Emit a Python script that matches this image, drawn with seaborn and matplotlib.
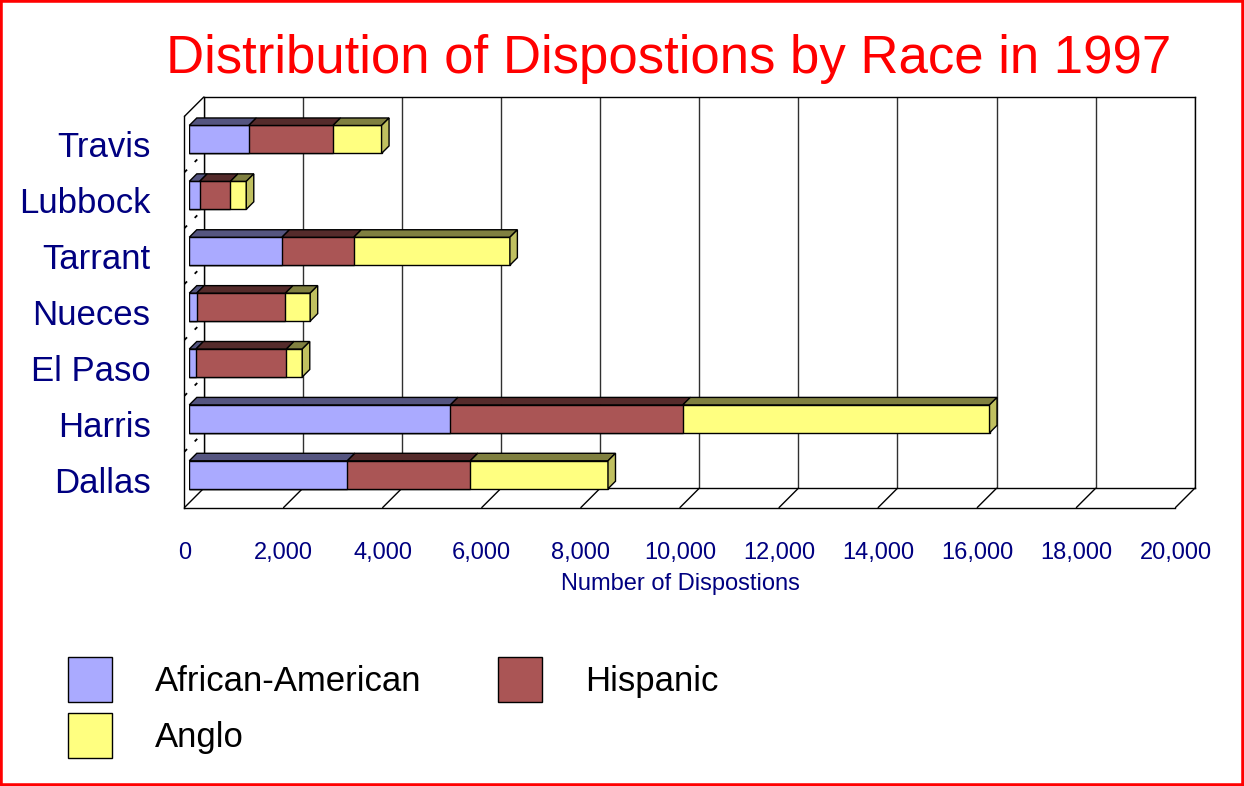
import matplotlib
matplotlib.use("Agg")
import matplotlib.pyplot as plt
from matplotlib.patches import Polygon, Patch, Rectangle
from matplotlib.lines import Line2D
from matplotlib.transforms import IdentityTransform
from matplotlib.ticker import FuncFormatter
import numpy as np
import seaborn as sns

# Dispositions by county and race, 1997
counties = ["Travis", "Lubbock", "Tarrant", "Nueces", "El Paso", "Harris", "Dallas"]
african_american = [1200, 210, 1870, 150, 135, 5270, 3190]
hispanic = [1700, 620, 1450, 1790, 1825, 4690, 2480]
anglo = [980, 320, 3150, 500, 320, 6190, 2780]
x_ticks = list(range(0, 20001, 2000))

series_names = ["African-American", "Hispanic", "Anglo"]
front_colors = ["#AAAAFF", "#AA5555", "#FFFF80"]
top_colors = ["#555580", "#552B2B", "#808040"]
side_colors = ["#7F7FBF", "#804040", "#C0C060"]
navy = "#000080"

sns.set_style("white")
plt.rcParams["font.family"] = ["Liberation Sans", "DejaVu Sans"]

W, H, DPI = 1244, 786, 100
fig = plt.figure(figsize=(W / DPI, H / DPI), dpi=DPI, facecolor="white")

# plane of the bar fronts (pixels), and the 3-D depth of the chart box
left, top, pw, ph = 189.3, 111.5, 991.0, 391.2
depth = 19.3
front_shift = -0.25 * depth
back_shift = 0.75 * depth
bar_depth = 7.5


def add_plane(shift, zorder):
    return fig.add_axes([(left + shift) / W, (H - top - ph + shift) / H, pw / W, ph / H],
                        zorder=zorder)


ax_back = add_plane(back_shift, 0)
ax_front = add_plane(front_shift, 1)
ax = add_plane(0, 2)

xlim = (x_ticks[0], x_ticks[-1])
ylim = (len(counties) - 0.5, -0.5)

# stacked bars: cumulative totals drawn largest first
values = np.array([african_american, hispanic, anglo], dtype=float)
cum = np.cumsum(values, axis=0)
for j in reversed(range(3)):
    sns.barplot(x=cum[j], y=counties, order=counties, color=front_colors[j],
                saturation=1, width=0.5, edgecolor="black", linewidth=1,
                orient="h", errorbar=None, ax=ax)
ax.set_xlim(xlim)
ax.set_ylim(ylim)
ax.axis("off")

# back wall with vertical gridlines
ax_back.set_xlim(xlim)
ax_back.set_ylim(ylim)
ax_back.set_facecolor("white")
ax_back.set_xticks(x_ticks)
ax_back.set_yticks([])
ax_back.tick_params(length=0, labelbottom=False, labelleft=False)
ax_back.grid(axis="x", color="#303030", linewidth=1)
for s in ax_back.spines.values():
    s.set_color("black")
    s.set_linewidth(1)

# front plane carrying the axes, ticks and labels
ax_front.set_xlim(xlim)
ax_front.set_ylim(ylim)
ax_front.patch.set_visible(False)
ax_front.spines["top"].set_visible(False)
ax_front.spines["right"].set_visible(False)
for s in ("left", "bottom"):
    ax_front.spines[s].set_color("black")
    ax_front.spines[s].set_linewidth(1)
ax_front.set_xticks(x_ticks)
ax_front.xaxis.set_major_formatter(FuncFormatter(lambda v, p: f"{int(v):,}"))
ax_front.set_yticks(range(len(counties)))
ax_front.set_yticklabels(counties)
ax_front.tick_params(axis="x", direction="out", length=12.2, width=1, color="black",
                     pad=12.3, labelsize=17, labelcolor=navy)
ax_front.tick_params(axis="y", direction="out", length=10, width=1, color="black",
                     pad=14.4, labelsize=25, labelcolor=navy)
ax_front.set_xlabel("Number of Dispostions", fontsize=17, color=navy, labelpad=7)

ident = IdentityTransform()


def plane_link(x, y, style="-"):
    p0 = ax_front.transData.transform((x, y))
    p1 = ax_back.transData.transform((x, y))
    kw = dict(color="black", linewidth=1, transform=ident, zorder=0.5)
    if style == "dotted":
        kw["dashes"] = (2, 6)
        kw["linewidth"] = 1.3
    fig.add_artist(Line2D([p0[0], p1[0]], [p0[1], p1[1]], **kw))


# floor edges and left wall
for xt in x_ticks:
    plane_link(xt, ylim[0])
plane_link(0, ylim[1])
for i in range(len(counties) - 1):
    plane_link(0, i + 0.5, style="dotted")

# top and end faces of the bars
for i in range(len(counties)):
    for j in range(3):
        x0 = 0 if j == 0 else cum[j - 1][i]
        x1 = cum[j][i]
        X0, Ya = ax.transData.transform((x0, i - 0.25))
        X1, Yb = ax.transData.transform((x1, i + 0.25))
        Yt, Ybot = max(Ya, Yb), min(Ya, Yb)
        d = bar_depth
        ax.add_artist(Polygon([(X0, Yt), (X1, Yt), (X1 + d, Yt + d), (X0 + d, Yt + d)],
                              closed=True, facecolor=top_colors[j], edgecolor="black",
                              linewidth=1, transform=ident, clip_on=False, zorder=3))
        if j == 2:
            ax.add_artist(Polygon([(X1, Ybot), (X1, Yt), (X1 + d, Yt + d), (X1 + d, Ybot + d)],
                                  closed=True, facecolor=side_colors[j], edgecolor="black",
                                  linewidth=1, transform=ident, clip_on=False, zorder=3))

fig.text(669 / W, 1 - 73 / H, "Distribution of Dispostions by Race in 1997",
         ha="center", va="baseline", color="red", fontsize=38)

handles = [Patch(facecolor=front_colors[k], edgecolor="black", linewidth=1,
                 label=series_names[k]) for k in (0, 2, 1)]
fig.legend(handles=handles, loc="upper left", bbox_to_anchor=(68 / W, 1 - 657 / H),
           ncol=2, frameon=False, fontsize=25, labelcolor="black",
           handlelength=1.27, handleheight=1.62,
           handletextpad=1.24, columnspacing=2.19, labelspacing=0.32,
           borderpad=0, borderaxespad=0)

fig.add_artist(Rectangle((0, 0), 1, 1, transform=fig.transFigure, fill=False,
                         edgecolor="red", linewidth=4, zorder=10, clip_on=False))

fig.savefig("out.png", dpi=DPI, facecolor="white")
